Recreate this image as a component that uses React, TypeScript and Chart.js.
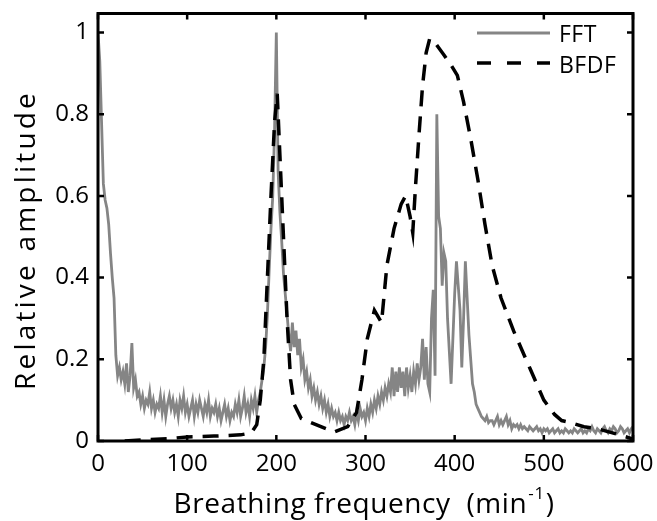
import React, { useEffect, useRef } from "react";
import { Chart, registerables } from "chart.js";

Chart.register(...registerables);

// ---- data ----
const FFT_STEP = 2; // min^-1 between FFT samples, starting at 0
const fftAmplitude = [
  1.0, 0.93, 0.78, 0.63, 0.59, 0.57, 0.53, 0.46, 0.4, 0.35,
  0.21, 0.16, 0.18, 0.15, 0.17, 0.14, 0.19, 0.12, 0.16, 0.24,
  0.13, 0.15, 0.11, 0.12, 0.09, 0.11, 0.08, 0.1, 0.09, 0.12,
  0.08, 0.1, 0.07, 0.09, 0.08, 0.11, 0.07, 0.1, 0.06, 0.09,
  0.11, 0.08, 0.1, 0.07, 0.09, 0.06, 0.1, 0.08, 0.11, 0.07,
  0.09, 0.06, 0.08, 0.1, 0.06, 0.09, 0.07, 0.1, 0.08, 0.06,
  0.09, 0.07, 0.1, 0.06, 0.08, 0.07, 0.09, 0.06, 0.08, 0.05,
  0.07, 0.09, 0.06, 0.08, 0.05, 0.07, 0.06, 0.09, 0.07, 0.1,
  0.06, 0.08, 0.11, 0.07, 0.09, 0.06, 0.1, 0.08, 0.11, 0.07,
  0.1, 0.12, 0.15, 0.18, 0.23, 0.31, 0.42, 0.52, 0.6, 0.76,
  1.0, 0.66, 0.56, 0.49, 0.41, 0.36, 0.31, 0.26, 0.22, 0.29,
  0.23, 0.27, 0.21, 0.25, 0.18, 0.2, 0.15, 0.17, 0.13, 0.15,
  0.11, 0.13, 0.1, 0.12, 0.09, 0.11, 0.08, 0.1, 0.07, 0.09,
  0.06, 0.08, 0.06, 0.07, 0.05, 0.07, 0.05, 0.06, 0.04, 0.06,
  0.05, 0.07, 0.05, 0.06, 0.04, 0.07, 0.05, 0.08, 0.06, 0.07,
  0.05, 0.08, 0.06, 0.09, 0.07, 0.1, 0.08, 0.11, 0.09, 0.12,
  0.1, 0.13, 0.11, 0.14, 0.12, 0.18, 0.11, 0.17, 0.12, 0.18,
  0.13, 0.17, 0.11, 0.18, 0.13, 0.16, 0.12, 0.17, 0.14, 0.19,
  0.15, 0.18, 0.25, 0.15, 0.23, 0.14, 0.12, 0.3, 0.37, 0.16,
  0.8, 0.55, 0.52, 0.38, 0.46, 0.44, 0.3, 0.22, 0.14, 0.25,
  0.36, 0.44, 0.38, 0.32, 0.18, 0.3, 0.44, 0.35, 0.26, 0.2,
  0.14, 0.12, 0.09, 0.08, 0.07, 0.06, 0.055, 0.05, 0.06, 0.045,
  0.05, 0.05, 0.04, 0.05, 0.06, 0.04, 0.05, 0.04, 0.05, 0.06,
  0.04, 0.05, 0.03, 0.04, 0.035, 0.04, 0.03, 0.04, 0.03, 0.035,
  0.03, 0.025, 0.035, 0.03, 0.025, 0.03, 0.035, 0.025, 0.03, 0.02,
  0.03, 0.025, 0.03, 0.02, 0.025, 0.03, 0.02, 0.025, 0.03, 0.02,
  0.025, 0.02, 0.03, 0.025, 0.02, 0.025, 0.02, 0.03, 0.025, 0.02,
  0.025, 0.03, 0.02, 0.025, 0.02, 0.03, 0.025, 0.035, 0.025, 0.02,
  0.03, 0.025, 0.02, 0.03, 0.035, 0.025, 0.02, 0.03, 0.025, 0.035,
  0.03, 0.02, 0.025, 0.035, 0.03, 0.02, 0.025, 0.03, 0.02, 0.03,
  0.035,
];

const bfdfFreq = [
  30, 50, 80, 100, 130, 160, 172, 178, 182, 186, 190, 194, 198, 201, 204, 208,
  212, 216, 220, 228, 250, 265, 280, 290, 296, 302, 310, 318, 324, 332, 340,
  345, 350, 353, 356, 360, 364, 368, 372, 378, 388, 396, 403, 410, 418, 426,
  434, 442, 452, 466, 485, 500, 512, 520, 530, 545, 560, 580, 600,
];
const bfdfAmp = [
  0.0, 0.003, 0.006, 0.01, 0.012, 0.015, 0.02, 0.04, 0.1, 0.2, 0.4, 0.6, 0.78,
  0.85, 0.7, 0.5, 0.3, 0.15, 0.09, 0.055, 0.035, 0.022, 0.035, 0.07, 0.15, 0.25,
  0.32, 0.29, 0.43, 0.52, 0.58, 0.6, 0.55, 0.51, 0.62, 0.75, 0.87, 0.95, 0.985,
  0.975, 0.945, 0.92, 0.895, 0.83, 0.74, 0.64, 0.53, 0.43, 0.35, 0.27, 0.175, 0.1,
  0.065, 0.05, 0.045, 0.035, 0.03, 0.018, 0.005,
];

const seriesNames = ["FFT", "BFDF"];
const xTicks = [0, 100, 200, 300, 400, 500, 600];
const yTicks = [0, 0.2, 0.4, 0.6, 0.8, 1];
const yTickLabels = ["0", "0.2", "0.4", "0.6", "0.8", "1"];
const yTitle = "Relative amplitude";
const xTitleMain = "Breathing frequency  (min";
const xTitleSup = "-1";
const xTitleEnd = ")";

const FONT = "'Open Sans', 'DejaVu Sans', sans-serif";
const FFT_COLOR = "#858585";

const framePlugin = {
  id: "frame",
  afterDraw(chart: any) {
    const { ctx, chartArea: a, scales } = chart;
    const xs = scales.x;
    const ys = scales.y;
    ctx.save();
    // box
    ctx.strokeStyle = "#000";
    ctx.lineWidth = 3;
    ctx.strokeRect(a.left, a.top, a.right - a.left, a.bottom - a.top);
    // inward ticks
    ctx.lineWidth = 2.5;
    const tl = 6;
    ctx.beginPath();
    xTicks.forEach((v) => {
      const px = xs.getPixelForValue(v);
      ctx.moveTo(px, a.bottom);
      ctx.lineTo(px, a.bottom - tl);
      ctx.moveTo(px, a.top);
      ctx.lineTo(px, a.top + tl);
    });
    yTicks.forEach((v) => {
      const py = ys.getPixelForValue(v);
      ctx.moveTo(a.left, py);
      ctx.lineTo(a.left + tl, py);
      ctx.moveTo(a.right, py);
      ctx.lineTo(a.right - tl, py);
    });
    ctx.stroke();

    // legend
    const lx0 = 477;
    const lx1 = 550;
    const ly = [33, 63];
    ctx.lineWidth = 2.8;
    ctx.strokeStyle = FFT_COLOR;
    ctx.setLineDash([]);
    ctx.beginPath();
    ctx.moveTo(lx0, ly[0]);
    ctx.lineTo(lx1, ly[0]);
    ctx.stroke();
    ctx.strokeStyle = "#000";
    ctx.lineWidth = 3.5;
    ctx.setLineDash([14, 16]);
    ctx.beginPath();
    ctx.moveTo(lx0, ly[1]);
    ctx.lineTo(lx1, ly[1]);
    ctx.stroke();
    ctx.setLineDash([]);
    ctx.fillStyle = "#000";
    ctx.font = `23px ${FONT}`;
    ctx.textBaseline = "alphabetic";
    ctx.textAlign = "left";
    (ctx as any).letterSpacing = "0.5px";
    ctx.fillText(seriesNames[0], 559, 42);
    ctx.fillText(seriesNames[1], 559, 73);

    // x title with superscript
    (ctx as any).letterSpacing = "0.6px";
    ctx.font = `28px ${FONT}`;
    const w1 = ctx.measureText(xTitleMain).width;
    ctx.font = `17px ${FONT}`;
    const w2 = ctx.measureText(xTitleSup).width;
    ctx.font = `28px ${FONT}`;
    const w3 = ctx.measureText(xTitleEnd).width;
    const total = w1 + w2 + w3 + 2;
    const cx = 364;
    let x = cx - total / 2;
    const base = 513;
    ctx.fillText(xTitleMain, x, base);
    x += w1 + 1;
    ctx.font = `17px ${FONT}`;
    ctx.fillText(xTitleSup, x, base - 14);
    x += w2 + 1;
    ctx.font = `28px ${FONT}`;
    ctx.fillText(xTitleEnd, x, base);

    // y title (rotated)
    ctx.save();
    (ctx as any).letterSpacing = "3.2px";
    ctx.font = `28px ${FONT}`;
    ctx.translate(35, 240);
    ctx.rotate(-Math.PI / 2);
    ctx.textAlign = "center";
    ctx.textBaseline = "alphabetic";
    ctx.fillText(yTitle, 0, 0);
    ctx.restore();

    ctx.restore();
  },
};

export default function App() {
  const ref = useRef<HTMLCanvasElement | null>(null);
  useEffect(() => {
    if (!ref.current) return;
    const fftPoints = fftAmplitude.map((y, i) => ({ x: i * FFT_STEP, y }));
    const bfdfPoints = bfdfFreq.map((x, i) => ({ x, y: bfdfAmp[i] }));
    const chart = new Chart(ref.current, {
      type: "line",
      data: {
        datasets: [
          {
            label: seriesNames[0],
            data: fftPoints,
            borderColor: FFT_COLOR,
            borderWidth: 2.8,
            pointRadius: 0,
            tension: 0,
            order: 2,
          },
          {
            label: seriesNames[1],
            data: bfdfPoints,
            borderColor: "#000",
            borderWidth: 3.5,
            borderDash: [16, 10],
            pointRadius: 0,
            tension: 0,
            order: 1,
          },
        ],
      },
      options: {
        animation: false,
        responsive: false,
        devicePixelRatio: 1,
        layout: { padding: { left: 0, right: 24, top: 13.5, bottom: 0 } },
        plugins: {
          legend: { display: false },
          tooltip: { enabled: false },
        },
        scales: {
          x: {
            type: "linear",
            min: 0,
            max: 600,
            grid: { display: false, drawTicks: false },
            border: { display: false },
            ticks: {
              stepSize: 100,
              color: "#000",
              padding: 9,
              maxRotation: 0,
              font: { family: FONT, size: 24 },
            },
            afterBuildTicks: (s: any) => {
              s.ticks = xTicks.map((v) => ({ value: v }));
            },
            afterFit: (s: any) => {
              s.height = 80;
              s.paddingLeft = 0;
              s.paddingRight = 0;
            },
          },
          y: {
            type: "linear",
            min: 0,
            max: 1.0465,
            grid: { display: false, drawTicks: false },
            border: { display: false },
            ticks: {
              color: "#000",
              padding: 9,
              font: { family: FONT, size: 24 },
              callback: (v: any) => {
                const i = yTicks.findIndex((t) => Math.abs(t - Number(v)) < 1e-6);
                return i >= 0 ? yTickLabels[i] : "";
              },
            },
            afterBuildTicks: (s: any) => {
              s.ticks = yTicks.map((v) => ({ value: v }));
            },
            afterFit: (s: any) => {
              s.width = 98;
              s.paddingTop = 0;
              s.paddingBottom = 0;
            },
            title: { display: false },
          },
        },
      },
      plugins: [framePlugin],
    });
    return () => chart.destroy();
  }, []);
  return (
    <div style={{ position: "absolute", left: 0, top: 0, width: 657, height: 521, background: "#fff" }}>
      <canvas ref={ref} width={657} height={521} />
    </div>
  );
}
